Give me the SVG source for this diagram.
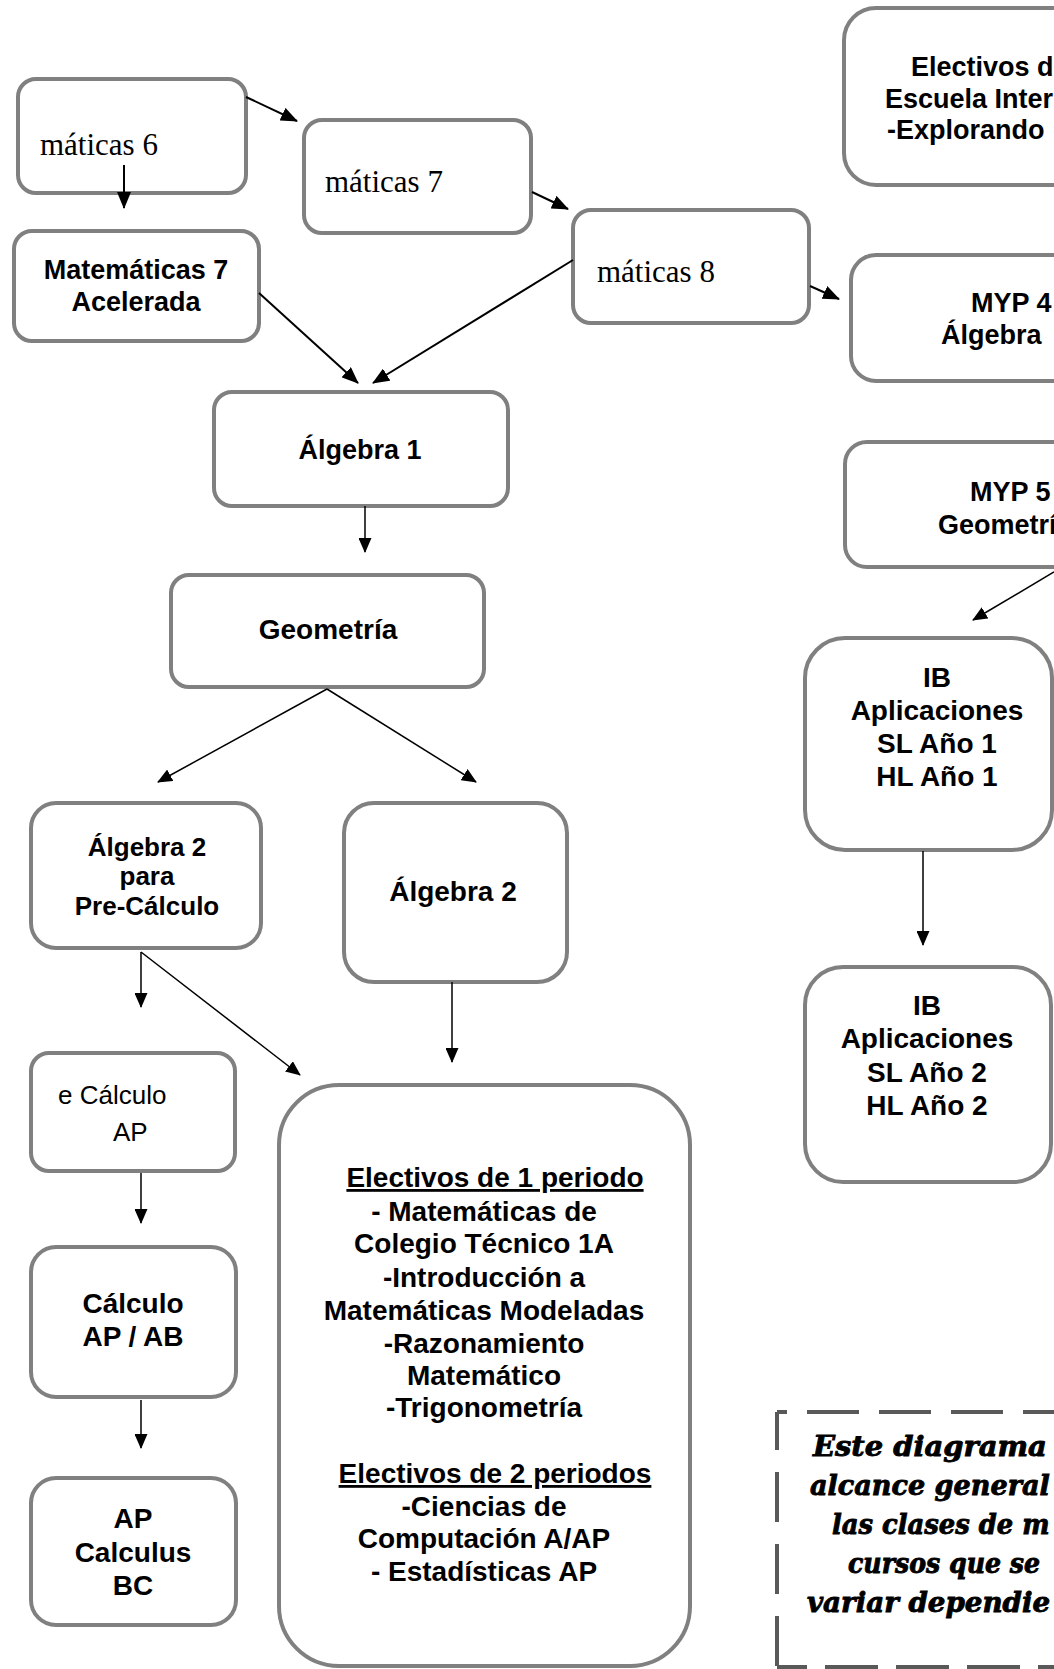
<svg xmlns="http://www.w3.org/2000/svg" width="1054" height="1669" viewBox="0 0 1054 1669">
<style>
.box{fill:#fff;stroke:#808080;stroke-width:4}
.t{font-family:"Liberation Sans",Arial,sans-serif;font-weight:bold;font-size:27px;fill:#000;text-anchor:middle}
.s{text-anchor:start}
.b28{font-size:28px}
.b26{font-size:26px}
.reg{font-family:"Liberation Sans",Arial,sans-serif;font-size:26px;fill:#000}
.ser{font-family:"Liberation Serif","Times New Roman",serif;font-size:31px;fill:#000}
.note{font-family:"DejaVu Serif",serif;font-weight:bold;font-style:italic;font-size:28px;fill:#000;stroke:#000;stroke-width:0.9}
.c{stroke:#000;fill:none;stroke-width:1.5;marker-end:url(#ah)}
.c2{stroke:#000;fill:none;stroke-width:2;marker-end:url(#ahL)}
.dash{stroke:#595959;stroke-width:4;fill:none}
</style>
<defs>
<marker id="ah" viewBox="0 0 15 13" refX="14" refY="6.5" markerWidth="15" markerHeight="13" markerUnits="userSpaceOnUse" orient="auto"><path d="M0,0 L15,6.5 L0,13 Z" fill="#000"/></marker>
<marker id="ahL" viewBox="0 0 17 14" refX="16" refY="7" markerWidth="17" markerHeight="14" markerUnits="userSpaceOnUse" orient="auto"><path d="M0,0 L17,7 L0,14 Z" fill="#000"/></marker>
</defs>
<rect width="1054" height="1669" fill="#fff"/>

<g id="mat6"><rect class="box" x="18" y="79" width="228" height="114" rx="18"/><text class="ser" x="40" y="155">máticas 6</text></g>
<g id="mat7"><rect class="box" x="304" y="120" width="227" height="113" rx="18"/><text class="ser" x="325" y="192">máticas 7</text></g>
<g id="mat8"><rect class="box" x="573" y="210" width="236" height="113" rx="18"/><text class="ser" x="597" y="282">máticas 8</text></g>
<g id="acel"><rect class="box" x="14" y="231" width="245" height="110" rx="18"/><text class="t" x="136" y="279">Matemáticas 7</text><text class="t" x="136" y="311">Acelerada</text></g>
<g id="electop"><rect class="box" x="844" y="8" width="240" height="177" rx="32"/><text class="t s" x="911" y="76">Electivos d</text><text class="t s" x="885" y="108">Escuela Inter</text><text class="t s" x="887" y="139">-Explorando</text></g>
<g id="myp4"><rect class="box" x="851" y="255" width="230" height="126" rx="25"/><text class="t s" x="971" y="312">MYP 4</text><text class="t s" x="941" y="344">Álgebra</text></g>
<g id="myp5"><rect class="box" x="845" y="442" width="230" height="125" rx="22"/><text class="t s" x="970" y="501">MYP 5</text><text class="t s" x="938" y="534">Geometrí</text></g>
<g id="alg1"><rect class="box" x="214" y="392" width="294" height="114" rx="18"/><text class="t" x="360" y="459">Álgebra 1</text></g>
<g id="geom"><rect class="box" x="171" y="575" width="313" height="112" rx="18"/><text class="t b28" x="328" y="639">Geometría</text></g>
<g id="ib1"><rect class="box" x="805" y="638" width="247" height="212" rx="40"/><text class="t b28" x="937" y="687">IB</text><text class="t b28" x="937" y="720">Aplicaciones</text><text class="t b28" x="937" y="753">SL Año 1</text><text class="t b28" x="937" y="786">HL Año 1</text></g>
<g id="ib2"><rect class="box" x="805" y="967" width="246" height="215" rx="38"/><text class="t b28" x="927" y="1015">IB</text><text class="t b28" x="927" y="1048">Aplicaciones</text><text class="t b28" x="927" y="1082">SL Año 2</text><text class="t b28" x="927" y="1115">HL Año 2</text></g>
<g id="alg2pc"><rect class="box" x="31" y="803" width="230" height="145" rx="25"/><text class="t b26" x="147" y="856">Álgebra 2</text><text class="t b26" x="147" y="885">para</text><text class="t b26" x="147" y="915">Pre-Cálculo</text></g>
<g id="alg2"><rect class="box" x="344" y="803" width="223" height="179" rx="30"/><text class="t b28" x="453" y="901">Álgebra 2</text></g>
<g id="precalc"><rect class="box" x="31" y="1053" width="204" height="118" rx="18"/><text class="reg" x="58" y="1104">e Cálculo</text><text class="reg" x="113" y="1141">AP</text></g>
<g id="calcab"><rect class="box" x="31" y="1247" width="205" height="150" rx="25"/><text class="t b28" x="133" y="1313">Cálculo</text><text class="t b28" x="133" y="1346">AP / AB</text></g>
<g id="bc"><rect class="box" x="31" y="1478" width="205" height="147" rx="25"/><text class="t b28" x="133" y="1528">AP</text><text class="t b28" x="133" y="1562">Calculus</text><text class="t b28" x="133" y="1595">BC</text></g>
<g id="electivos"><rect class="box" x="279" y="1085" width="411" height="581" rx="60"/>
<text class="t b28" x="495" y="1187" text-decoration="underline">Electivos de 1 periodo</text>
<text class="t b28" x="484" y="1221">- Matemáticas de</text>
<text class="t b28" x="484" y="1253">Colegio Técnico 1A</text>
<text class="t b28" x="484" y="1287">-Introducción a</text>
<text class="t b28" x="484" y="1320">Matemáticas Modeladas</text>
<text class="t b28" x="484" y="1353">-Razonamiento</text>
<text class="t b28" x="484" y="1385">Matemático</text>
<text class="t b28" x="484" y="1417">-Trigonometría</text>
<text class="t b28" x="495" y="1483" text-decoration="underline">Electivos de 2 periodos</text>
<text class="t b28" x="484" y="1516">-Ciencias de</text>
<text class="t b28" x="484" y="1548">Computación A/AP</text>
<text class="t b28" x="484" y="1581">- Estadísticas AP</text>
</g>
<g id="nota">
<path class="dash" d="M777,1412 H1060" stroke-dasharray="52 20" stroke-dashoffset="42"/>
<path class="dash" d="M777,1412 V1669" stroke-dasharray="50 22" stroke-dashoffset="12"/>
<path class="dash" d="M777,1667 H1060" stroke-dasharray="53 18" stroke-dashoffset="23"/>
<text class="note" transform="translate(813,1456) scale(0.85,1)" textLength="275" lengthAdjust="spacingAndGlyphs">Este diagrama</text>
<text class="note" transform="translate(810,1495) scale(0.85,1)" textLength="282" lengthAdjust="spacingAndGlyphs">alcance general</text>
<text class="note" transform="translate(832,1534) scale(0.85,1)" textLength="256" lengthAdjust="spacingAndGlyphs">las clases de m</text>
<text class="note" transform="translate(848,1573) scale(0.85,1)" textLength="226" lengthAdjust="spacingAndGlyphs">cursos que se</text>
<text class="note" transform="translate(807,1612) scale(0.85,1)" textLength="286" lengthAdjust="spacingAndGlyphs">variar dependie</text>
</g>

<g id="connectors">
<path class="c2" d="M246,97 L297,121"/>
<path class="c2" d="M124,165 L124,208"/>
<path class="c2" d="M532,192 L568,209"/>
<path class="c2" d="M810,286 L839,299"/>
<path class="c2" d="M259,293 L358,383"/>
<path class="c2" d="M573,260 L373,383"/>
<path class="c" d="M365,506 L365,552"/>
<path class="c" d="M327,689 L158,782"/>
<path class="c" d="M327,689 L476,782"/>
<path class="c" d="M141,952 L141,1007"/>
<path class="c" d="M141,952 L300,1075"/>
<path class="c" d="M452,982 L452,1062"/>
<path class="c" d="M141,1173 L141,1223"/>
<path class="c" d="M141,1400 L141,1448"/>
<path class="c" d="M1054,572 L973,620"/>
<path class="c" d="M923,851 L923,945"/>
</g>
</svg>
